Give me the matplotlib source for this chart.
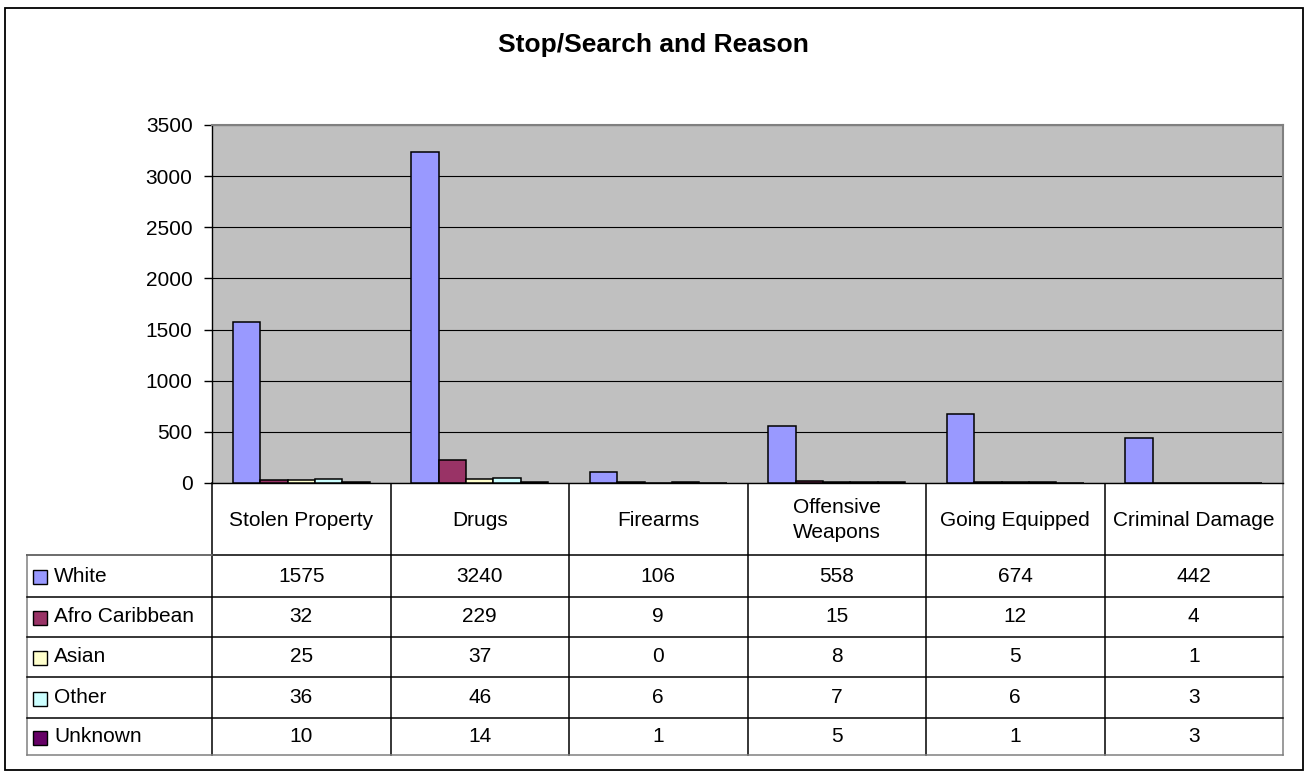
import matplotlib
matplotlib.use("Agg")
import matplotlib.pyplot as plt
from matplotlib.patches import Rectangle
import numpy as np

plt.rcParams['font.family'] = ['Liberation Sans', 'DejaVu Sans']

# ---- data ----
categories = ["Stolen Property", "Drugs", "Firearms", "Offensive\nWeapons",
              "Going Equipped", "Criminal Damage"]
series = ["White", "Afro Caribbean", "Asian", "Other", "Unknown"]
white = [1575, 3240, 106, 558, 674, 442]
afro_caribbean = [32, 229, 9, 15, 12, 4]
asian = [25, 37, 0, 8, 5, 1]
other = [36, 46, 6, 7, 6, 3]
unknown = [10, 14, 1, 5, 1, 3]
values = [white, afro_caribbean, asian, other, unknown]
colors = ["#9999FF", "#993366", "#FFFFCC", "#CCFFFF", "#660066"]
yticks = [0, 500, 1000, 1500, 2000, 2500, 3000, 3500]
title = "Stop/Search and Reason"

# ---- layout (pixels) ----
W, H = 1305, 772
AX_L, AX_R, AX_T, AX_B = 212, 1283, 125, 483
TAB_L = 27
ROW_Y = [555, 597, 637, 677, 718, 755]
FS = 15

fig = plt.figure(figsize=(W / 100, H / 100), dpi=100)
fig.patch.set_facecolor("white")

ov = fig.add_axes([0, 0, 1, 1], zorder=0)
ov.set_xlim(0, W)
ov.set_ylim(H, 0)
ov.axis("off")

ax = fig.add_axes([AX_L / W, 1 - AX_B / H, (AX_R - AX_L) / W, (AX_B - AX_T) / H], zorder=2)
ax.set_facecolor("#C0C0C0")

n = len(categories)
bw = 1 / 6.5
x = np.arange(n)
for j, (vals, c) in enumerate(zip(values, colors)):
    ax.bar(x + (j - 2) * bw, vals, width=bw, color=c, edgecolor="black",
           linewidth=1.1, zorder=3)

ax.set_xlim(-0.5, n - 0.5)
ax.set_ylim(0, 3500)
ax.set_yticks(yticks)
ax.set_yticklabels([str(v) for v in yticks], fontsize=FS)
ax.set_xticks([])
ax.yaxis.grid(True, color="black", linewidth=0.8, zorder=1)
ax.set_axisbelow(True)
ax.tick_params(axis="y", direction="out", length=6, width=1, pad=8, colors="black")
for s in ["top", "right"]:
    ax.spines[s].set_color("#808080")
    ax.spines[s].set_linewidth(1.5)
for s in ["left", "bottom"]:
    ax.spines[s].set_color("black")
    ax.spines[s].set_linewidth(1.0)

# ---- title ----
ov.text(653, 45, title, ha="center", va="center", fontsize=19, fontweight="bold")

# ---- data table ----
col_w = (AX_R - AX_L) / n
col_x = [AX_L + i * col_w for i in range(n + 1)]
# vertical lines
for i, cx in enumerate(col_x):
    col = "#808080" if i == n else "black"
    ov.plot([cx, cx], [AX_B, ROW_Y[-1]], color=col, lw=1.1)
ov.plot([TAB_L, TAB_L], [ROW_Y[0], ROW_Y[-1]], color="#808080", lw=1.1)
# horizontal lines
for k, ry in enumerate(ROW_Y):
    col = "#808080" if k == len(ROW_Y) - 1 else "black"
    ov.plot([TAB_L, AX_R], [ry, ry], color=col, lw=1.1)
ov.plot([TAB_L, AX_L], [ROW_Y[0], ROW_Y[0]], color="#808080", lw=1.1)

# header
for i, cat in enumerate(categories):
    ov.text((col_x[i] + col_x[i + 1]) / 2, (AX_B + ROW_Y[0]) / 2 + 1, cat,
            ha="center", va="center", fontsize=FS, linespacing=1.35)

# rows
for k, (name, vals, c) in enumerate(zip(series, values, colors)):
    yc = (ROW_Y[k] + ROW_Y[k + 1]) / 2
    ov.add_patch(Rectangle((33, yc - 6), 14, 14, facecolor=c, edgecolor="black", lw=1.0))
    ov.text(54, yc, name, ha="left", va="center", fontsize=FS)
    for i, v in enumerate(vals):
        ov.text((col_x[i] + col_x[i + 1]) / 2, yc, str(v), ha="center",
                va="center", fontsize=FS)

# outer chart border
ov.add_patch(Rectangle((5, 8), 1298, 762, facecolor="none", edgecolor="black", lw=1.3))

fig.savefig("out.png", dpi=100)
